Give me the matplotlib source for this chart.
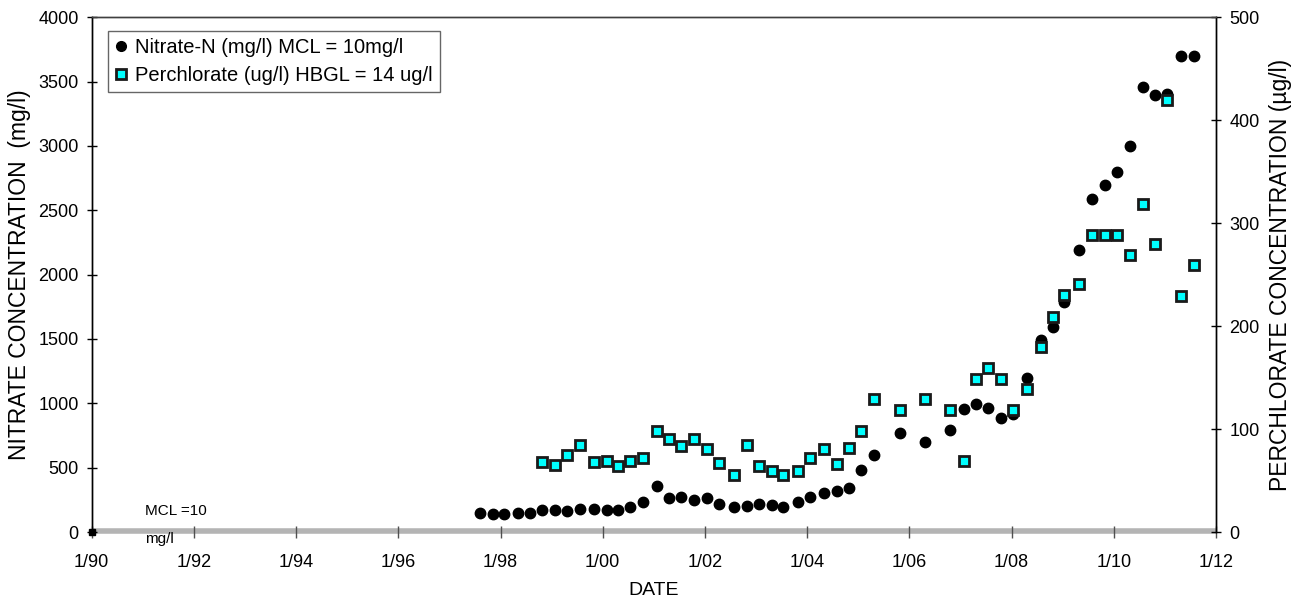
import matplotlib
matplotlib.use('Agg')
import matplotlib.pyplot as plt
from matplotlib.lines import Line2D

plt.rcParams['font.family'] = ['Liberation Sans', 'DejaVu Sans']

# ── Data (decimal years) ──────────────────────────────────────────────
nitrate_dates = [
    1997.60, 1997.85, 1998.07, 1998.34, 1998.58, 1998.81, 1999.07, 1999.31,
    1999.56, 1999.82, 2000.08, 2000.29, 2000.54, 2000.79, 2001.06, 2001.30,
    2001.54, 2001.78, 2002.04, 2002.28, 2002.56, 2002.82, 2003.05, 2003.31,
    2003.52, 2003.82, 2004.06, 2004.33, 2004.58, 2004.81, 2005.05, 2005.31,
    2005.81, 2006.31, 2006.80, 2007.06, 2007.31, 2007.53, 2007.80, 2008.03,
    2008.30, 2008.58, 2008.82, 2009.03, 2009.32, 2009.57, 2009.82, 2010.07,
    2010.32, 2010.58, 2010.81, 2011.05, 2011.31, 2011.58,
]
nitrate_vals = [
    150, 138, 140, 145, 150, 171, 171, 163,
    181, 181, 171, 171, 197, 232, 358, 262,
    272, 249, 264, 218, 192, 202, 220, 210,
    192, 231, 272, 301, 321, 340, 482, 601,
    772, 702, 793, 954, 995, 962, 884, 918,
    1195, 1493, 1596, 1791, 2193, 2589, 2696, 2794,
    2996, 3458, 3398, 3404, 3696, 3696,
]

perch_dates = [
    1998.81, 1999.07, 1999.31, 1999.56, 1999.82, 2000.08, 2000.29, 2000.54,
    2000.79, 2001.06, 2001.30, 2001.54, 2001.78, 2002.04, 2002.28, 2002.56,
    2002.82, 2003.05, 2003.31, 2003.52, 2003.82, 2004.06, 2004.33, 2004.58,
    2004.81, 2005.05, 2005.31, 2005.81, 2006.31, 2006.80, 2007.06, 2007.31,
    2007.53, 2007.80, 2008.03, 2008.30, 2008.58, 2008.82, 2009.03, 2009.32,
    2009.57, 2009.82, 2010.07, 2010.32, 2010.58, 2010.81, 2011.05, 2011.31,
    2011.58,
]
perch_vals = [
    68, 65, 75, 85, 68, 69, 64, 69,
    72, 98, 90, 84, 90, 81, 67, 55,
    85, 64, 59, 55, 59, 72, 81, 66,
    82, 98, 129, 119, 129, 119, 69, 149,
    159, 149, 119, 139, 180, 209, 230, 241,
    289, 289, 289, 269, 319, 280, 420, 229,
    259,
]

mcl_dates = [1990, 2012]
mcl_vals = [10, 10]

x_ticks = list(range(1990, 2013, 2))
x_labels = ['1/%02d' % (y % 100) for y in x_ticks]

# ── Figure ────────────────────────────────────────────────────────────
fig = plt.figure(figsize=(13.03, 6.01), dpi=100)
ax = fig.add_axes([0.0704, 0.1148, 0.8628, 0.8564])
ax2 = ax.twinx()

# MCL line along the bottom
ax.plot(mcl_dates, mcl_vals, color='#b4b4b4', lw=4, solid_capstyle='butt',
        zorder=1, clip_on=False)
ax.plot([1990], [0], marker='s', color='black', ms=4, clip_on=False, zorder=5)

ax.plot(nitrate_dates, nitrate_vals, 'o', color='black', ms=7.5, zorder=3)
ax2.plot(perch_dates, perch_vals, 's', mfc='#00ffff', mec='#1a1a1a', mew=2,
         ms=6.8, zorder=3)

ax.set_xlim(1990, 2012)
ax.set_ylim(0, 4000)
ax2.set_ylim(0, 500)
ax.set_xticks(x_ticks)
ax.set_xticklabels(x_labels)
ax.set_yticks(range(0, 4001, 500))
ax2.set_yticks(range(0, 501, 100))

for a in (ax, ax2):
    a.tick_params(direction='inout', length=7, width=1, labelsize=13, pad=6)
    for s in a.spines.values():
        s.set_linewidth(1)
ax.spines['bottom'].set_visible(False)
ax2.spines['bottom'].set_visible(False)
ax.spines['top'].set_color('#404040')
ax2.spines['top'].set_color('#404040')
ax.tick_params(axis='x', length=8, color='#505050', pad=12)

ax.set_xlabel('DATE', fontsize=14, labelpad=8)
ax.set_ylabel('NITRATE CONCENTRATION  (mg/l)', fontsize=16.5, labelpad=5)
ax2.set_ylabel('PERCHLORATE CONCENTRATION (\u00b5g/l)', fontsize=16.5, labelpad=7)

ax.text(1991.05, 160, 'MCL =10', fontsize=11, va='center')
ax.text(1991.05, -55, 'mg/l', fontsize=11, va='center')

handles = [
    Line2D([], [], ls='', marker='o', color='black', ms=7),
    Line2D([], [], ls='', marker='s', mfc='#00ffff', mec='#1a1a1a', mew=2, ms=6.5),
]
leg = ax2.legend(handles, ['Nitrate-N (mg/l) MCL = 10mg/l',
                           'Perchlorate (ug/l) HBGL = 14 ug/l'],
                 loc='upper left', bbox_to_anchor=(0.0145, 0.973),
                 fontsize=14.5, frameon=True, fancybox=False,
                 handlelength=0.6, handletextpad=0.4, borderpad=0.35,
                 labelspacing=0.45, borderaxespad=0)
leg.get_frame().set_edgecolor('#404040')
leg.get_frame().set_linewidth(1)

fig.savefig('out.png', dpi=100)
